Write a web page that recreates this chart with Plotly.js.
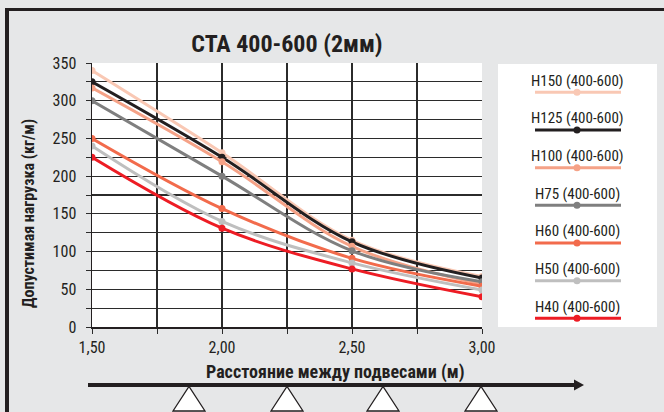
<!DOCTYPE html>
<html><head><meta charset="utf-8">
<script src="https://cdn.plot.ly/plotly-3.0.1.min.js"></script>
<style>html,body{margin:0;padding:0;background:#e6e7e8;}#chart{width:664px;height:412px;}</style>
</head><body><div id="chart"></div>
<script>
// ---- data ----
const distances = [1.5, 2.0, 2.5, 3.0];
const seriesNames = ['H150 (400-600)', 'H125 (400-600)', 'H100 (400-600)', 'H75 (400-600)', 'H60 (400-600)', 'H50 (400-600)', 'H40 (400-600)'];
const h150 = [340, 231, 115, 67];
const h125 = [325, 225, 113, 65];
const h100 = [317, 219, 107, 57];
const h75  = [300, 200, 101, 60];
const h60  = [250, 157, 91, 54];
const h50  = [240, 140, 85, 49];
const h40  = [225, 131, 77, 40];
const seriesValues = [h150, h125, h100, h75, h60, h50, h40];
const chartTitle = 'CTA 400-600 (2мм)';
const xTitle = 'Расстояние между подвесами (м)';
const yTitle = 'Допустимая нагрузка (кг/м)';

// ---- styles ----
const colors = ['#f9c8b4', '#231f20', '#f5a287', '#7f7f7f', '#f26b4c', '#bfbfbf', '#ed1c24'];
const FONT = '"Roboto Condensed", "Liberation Sans Narrow", "DejaVu Sans Condensed", Roboto, sans-serif';
const INK = '#231f20';
const W = 664, H = 412;
const L = 92, R = 482, T = 63, B = 327;
const px = x => (x - L) / (R - L);
const py = y => (B - y) / (B - T);

const traces = seriesValues.map((vals, i) => ({
  type: 'scatter', mode: 'lines+markers', x: distances, y: vals, name: seriesNames[i],
  line: {color: colors[i], width: 3, shape: 'spline', smoothing: 1},
  marker: {color: colors[i], size: 7},
  showlegend: false, hoverinfo: 'skip'
}));

const shapes = [];
const annotations = [];
// frame
shapes.push({type:'line', xref:'paper', yref:'paper', x0:px(5), x1:px(664), y0:py(9.5), y1:py(9.5), line:{color:INK, width:3}});
shapes.push({type:'line', xref:'paper', yref:'paper', x0:px(7), x1:px(7), y0:py(8), y1:py(412), line:{color:INK, width:4}});
// legend box
shapes.push({type:'rect', xref:'paper', yref:'paper', x0:px(498), x1:px(657), y0:py(64), y1:py(327), fillcolor:'#ffffff', line:{width:0}, layer:'above'});
seriesNames.forEach((n, i) => {
  const ty = 80.7 + 37.67 * i, ly = 92.3 + 37.67 * i;
  annotations.push({xref:'paper', yref:'paper', x:px(577), y:py(ty), text:n, showarrow:false, xanchor:'center', yanchor:'middle', font:{family:FONT, size:15, color:INK}});
  shapes.push({type:'line', xref:'paper', yref:'paper', x0:px(535), x1:px(621), y0:py(ly), y1:py(ly), line:{color:colors[i], width:3}, layer:'above'});
  shapes.push({type:'circle', xref:'paper', yref:'paper', x0:px(573.5), x1:px(580.5), y0:py(ly-3.5), y1:py(ly+3.5), fillcolor:colors[i], line:{width:0}, layer:'above'});
});
// arrow
shapes.push({type:'line', xref:'paper', yref:'paper', x0:px(88), x1:px(576), y0:py(385), y1:py(385), line:{color:INK, width:4}});
shapes.push({type:'path', xref:'paper', yref:'paper', path:`M ${px(574)} ${py(379.5)} L ${px(584)} ${py(385)} L ${px(574)} ${py(390.5)} Z`, fillcolor:INK, line:{width:0}});
// supports
[189, 287, 383, 481].forEach(cx => {
  shapes.push({type:'path', xref:'paper', yref:'paper', path:`M ${px(cx-16)} ${py(411)} L ${px(cx)} ${py(386.5)} L ${px(cx+16)} ${py(411)} Z`, fillcolor:'#ffffff', line:{color:INK, width:1.3}});
});
// axis titles
annotations.push({xref:'paper', yref:'paper', x:px(335), y:py(372), text:'<b>'+xTitle+'</b>', showarrow:false, xanchor:'center', yanchor:'middle', font:{family:FONT, size:18, color:INK}});
annotations.push({xref:'paper', yref:'paper', x:px(28), y:py(214), text:'<b>'+yTitle+'</b>', textangle:-90, showarrow:false, xanchor:'center', yanchor:'middle', font:{family:FONT, size:16, color:INK}});

const grid = '#2b2b2b';
const layout = {
  width: W, height: H,
  margin: {l: L, r: W - R, t: T, b: H - B, pad: 0},
  paper_bgcolor: '#e6e7e8', plot_bgcolor: '#ffffff',
  separators: ', ',
  font: {family: FONT, color: INK, size: 16},
  title: {text: '<b>' + chartTitle + '</b>', x: 287 / W, xanchor: 'center', xref: 'container', y: 1 - 44 / H, yanchor: 'middle', yref: 'container', font: {family: FONT, size: 24, color: INK}},
  xaxis: {range: [1.5, 3.0], tick0: 1.5, dtick: 0.5, tickformat: '.2f', showgrid: true, gridcolor: grid, gridwidth: 1.1,
    ticks: 'outside', ticklen: 5, tickcolor: grid, showline: true, linecolor: INK, linewidth: 1.5, zeroline: false,
    minor: {dtick: 0.25, showgrid: true, gridcolor: grid, gridwidth: 1.1, ticks: 'outside', ticklen: 5, tickcolor: grid},
    tickfont: {family: FONT, size: 16, color: INK}, fixedrange: true},
  yaxis: {range: [0, 350], tick0: 0, dtick: 50, showgrid: true, gridcolor: grid, gridwidth: 1.1,
    ticks: 'outside', ticklen: 5, tickcolor: grid, showline: true, linecolor: INK, linewidth: 1.5, zeroline: false,
    minor: {dtick: 25, showgrid: true, gridcolor: grid, gridwidth: 1.1, ticks: 'outside', ticklen: 5, tickcolor: grid},
    tickfont: {family: FONT, size: 16, color: INK}, ticklabelstandoff: 6, fixedrange: true},
  shapes: shapes, annotations: annotations, showlegend: false
};
Plotly.newPlot('chart', traces, layout, {staticPlot: true, displayModeBar: false});
</script>
</body></html>
